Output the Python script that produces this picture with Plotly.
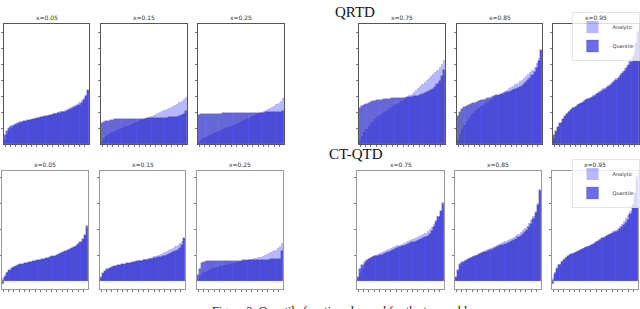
import plotly.graph_objects as go

W, H = 640, 309
N_QUANTILES = 40
quantile_index = list(range(N_QUANTILES))
panel_labels = ["x=0.05", "x=0.15", "x=0.25", "x=0.75", "x=0.85", "x=0.95"]
row_titles = ["QRTD", "CT-QTD"]
series_names = ["Analytic", "Quantile"]
caption = "Figure 3: Quantile functions learned for the toy problem."

# ---------------- QRTD (top row) ----------------
qrtd_analytic_005 = [4, 10, 14, 16, 18, 19, 20, 21, 22, 23, 23, 24, 25, 25, 26, 26, 27, 27, 28, 28,
                     29, 29, 30, 31, 31, 32, 33, 33, 34, 35, 36, 37, 38, 39, 40, 42, 44, 46, 49, 54]
qrtd_quantile_005 = [9, 13, 16, 18, 19, 20, 21, 22, 22, 23, 23, 24, 24, 25, 25, 26, 26, 27, 27, 28,
                     28, 29, 29, 30, 30, 31, 31, 32, 32, 33, 34, 35, 36, 37, 38, 39, 41, 44, 48, 54]
qrtd_analytic_015 = [3, 6, 8, 10, 11, 12, 13, 14, 15, 16, 17, 18, 18, 19, 20, 21, 22, 23, 24, 25,
                     26, 26, 27, 28, 29, 30, 31, 32, 33, 34, 35, 36, 37, 38, 39, 40, 42, 43, 45, 47]
qrtd_quantile_015 = [21, 22, 23, 23, 24, 24, 25, 25, 25, 25, 25, 25, 25, 25, 25, 25, 25, 25, 25, 25,
                     25, 26, 26, 26, 26, 26, 26, 26, 26, 26, 26, 27, 27, 27, 27, 27, 28, 29, 30, 33]
qrtd_analytic_025 = [2, 4, 6, 7, 8, 9, 10, 11, 12, 13, 14, 15, 16, 17, 17, 18, 19, 20, 21, 22,
                     23, 24, 25, 26, 27, 28, 29, 30, 31, 32, 33, 34, 35, 36, 37, 38, 40, 41, 43, 46]
qrtd_quantile_025 = [29, 30, 30, 30, 30, 30, 30, 30, 30, 30, 30, 31, 31, 31, 31, 31, 31, 31, 31, 31,
                     31, 31, 31, 31, 31, 31, 31, 31, 31, 31, 31, 32, 32, 32, 32, 32, 32, 32, 32, 33]
qrtd_analytic_075 = [3, 8, 12, 15, 18, 21, 23, 25, 27, 29, 30, 32, 33, 34, 36, 37, 39, 40, 41, 43,
                     44, 46, 47, 49, 50, 52, 54, 56, 58, 60, 62, 64, 66, 68, 70, 72, 74, 77, 80, 84]
qrtd_quantile_075 = [36, 38, 39, 40, 41, 42, 43, 43, 44, 44, 44, 45, 45, 45, 45, 46, 46, 46, 46, 46,
                     46, 46, 47, 47, 47, 48, 48, 48, 49, 50, 51, 52, 53, 54, 55, 57, 60, 63, 68, 74]
qrtd_analytic_085 = [4, 10, 15, 19, 23, 26, 29, 31, 33, 35, 36, 38, 39, 41, 42, 44, 45, 47, 48, 49,
                     50, 52, 53, 54, 56, 57, 58, 60, 61, 63, 64, 66, 68, 70, 72, 74, 77, 81, 86, 94]
qrtd_quantile_085 = [28, 32, 35, 37, 38, 39, 40, 41, 41, 42, 43, 44, 44, 45, 46, 46, 47, 48, 49, 49,
                     50, 50, 51, 52, 52, 53, 54, 55, 56, 57, 58, 60, 62, 64, 66, 69, 72, 76, 83, 94]
qrtd_analytic_095 = [6, 12, 17, 21, 25, 28, 31, 33, 35, 37, 38, 40, 41, 42, 44, 45, 46, 47, 49, 50,
                     51, 53, 54, 56, 57, 59, 60, 62, 64, 66, 68, 71, 73, 76, 79, 83, 87, 93, 102, 114]
qrtd_quantile_095 = [9, 13, 17, 21, 25, 28, 30, 32, 34, 36, 37, 39, 40, 41, 42, 44, 45, 46, 47, 48,
                     50, 51, 52, 54, 55, 57, 58, 60, 62, 64, 66, 69, 71, 73, 76, 79, 82, 88, 100, 112]

# ---------------- CT-QTD (bottom row) ----------------
ctqtd_analytic_005 = [3, 6, 9, 11, 13, 14, 15, 16, 17, 17, 18, 18, 19, 19, 20, 20, 21, 21, 22, 22,
                      23, 23, 24, 25, 25, 26, 27, 28, 29, 30, 31, 32, 33, 34, 35, 37, 39, 42, 46, 53]
ctqtd_quantile_005 = [-3, 4, 8, 11, 13, 14, 15, 16, 17, 17, 18, 18, 19, 19, 20, 20, 21, 21, 22, 22,
                      23, 23, 24, 25, 25, 26, 27, 28, 29, 30, 31, 32, 33, 34, 35, 37, 39, 42, 46, 55]
ctqtd_analytic_015 = [3, 7, 10, 12, 13, 14, 15, 15, 16, 16, 17, 17, 18, 18, 19, 19, 20, 20, 21, 21,
                      22, 22, 23, 23, 24, 25, 25, 26, 27, 28, 29, 30, 31, 32, 33, 35, 36, 38, 40, 43]
ctqtd_quantile_015 = [4, 8, 10, 12, 13, 14, 15, 15, 16, 16, 17, 17, 18, 18, 18, 19, 19, 20, 20, 20,
                      21, 21, 21, 22, 22, 23, 23, 24, 24, 25, 25, 26, 27, 28, 29, 30, 31, 33, 36, 43]
ctqtd_analytic_025 = [2, 5, 7, 9, 10, 11, 12, 13, 13, 14, 15, 15, 16, 16, 17, 17, 18, 18, 19, 19,
                      20, 20, 21, 21, 22, 22, 23, 23, 24, 24, 25, 26, 27, 28, 29, 30, 31, 33, 35, 38]
ctqtd_quantile_025 = [6, 12, 18, 19, 20, 20, 20, 20, 20, 20, 20, 20, 20, 20, 20, 20, 20, 20, 20, 20,
                      20, 21, 21, 21, 21, 21, 21, 21, 21, 21, 21, 21, 21, 21, 22, 22, 22, 22, 22, 30]
ctqtd_analytic_075 = [2, 8, 13, 17, 20, 22, 24, 25, 26, 27, 28, 29, 30, 31, 32, 33, 34, 35, 36, 36,
                      37, 38, 39, 40, 41, 42, 43, 44, 45, 46, 47, 48, 50, 52, 54, 57, 61, 65, 70, 76]
ctqtd_quantile_075 = [4, 12, 16, 19, 21, 22, 23, 24, 25, 25, 26, 26, 27, 28, 29, 30, 31, 32, 33, 34,
                      35, 35, 36, 37, 38, 39, 39, 40, 41, 42, 43, 44, 45, 47, 50, 54, 59, 64, 70, 78]
ctqtd_analytic_085 = [3, 10, 15, 18, 20, 22, 23, 24, 25, 26, 27, 28, 29, 30, 31, 32, 33, 34, 35, 36,
                      37, 38, 39, 40, 41, 42, 43, 44, 46, 47, 49, 51, 53, 55, 58, 61, 65, 70, 78, 90]
ctqtd_quantile_085 = [4, 11, 17, 19, 20, 21, 22, 23, 24, 25, 26, 27, 28, 29, 29, 30, 31, 32, 33, 34,
                      35, 36, 36, 37, 38, 39, 40, 41, 42, 44, 45, 47, 49, 51, 54, 57, 62, 68, 76, 91]
ctqtd_analytic_095 = [3, 9, 14, 17, 20, 22, 24, 25, 27, 28, 29, 30, 31, 32, 33, 34, 35, 36, 37, 38,
                      39, 40, 42, 43, 44, 46, 47, 48, 50, 51, 53, 55, 57, 60, 63, 66, 70, 77, 87, 100]
ctqtd_quantile_095 = [-3, 7, 12, 16, 19, 21, 23, 25, 26, 27, 28, 29, 30, 31, 32, 33, 34, 35, 36, 37,
                      39, 40, 41, 43, 44, 45, 46, 47, 48, 49, 50, 52, 54, 56, 58, 61, 67, 76, 88, 104]

rows = [
    dict(title=row_titles[0],
         analytic=[qrtd_analytic_005, qrtd_analytic_015, qrtd_analytic_025,
                   qrtd_analytic_075, qrtd_analytic_085, qrtd_analytic_095],
         quantile=[qrtd_quantile_005, qrtd_quantile_015, qrtd_quantile_025,
                   qrtd_quantile_075, qrtd_quantile_085, qrtd_quantile_095],
         xpx=[(4, 89), (101, 187), (198, 284), (359, 445), (457, 542), (553, 639)],
         ypx=(24, 144), yrange=[0, 120], ytick=16, frame="#555555", legend="legend",
         title_xy=(355, 12)),
    dict(title=row_titles[1],
         analytic=[ctqtd_analytic_005, ctqtd_analytic_015, ctqtd_analytic_025,
                   ctqtd_analytic_075, ctqtd_analytic_085, ctqtd_analytic_095],
         quantile=[ctqtd_quantile_005, ctqtd_quantile_015, ctqtd_quantile_025,
                   ctqtd_quantile_075, ctqtd_quantile_085, ctqtd_quantile_095],
         xpx=[(2, 88), (100, 185), (197, 283), (357, 444), (455, 541), (552, 638)],
         ypx=(171, 289), yrange=[-8, 110], ytick=26, frame="#999999", legend="legend2",
         title_xy=(356, 154)),
]

LIGHT = "rgba(0,0,255,0.28)"
DARK = "rgba(10,10,220,0.6)"
DARK_EDGE = "rgba(30,30,90,0.3)"

fig = go.Figure()
layout = dict(
    width=W, height=H, margin=dict(l=0, r=0, t=0, b=0),
    paper_bgcolor="white", plot_bgcolor="white",
    barmode="overlay", bargap=0,
    font=dict(family="DejaVu Sans", size=6, color="#333333"),
)
annotations = []
k = 0
xt = [i * 2.5 for i in range(16)]
for r, row in enumerate(rows):
    for j in range(6):
        k += 1
        xa = "x" if k == 1 else f"x{k}"
        ya = "y" if k == 1 else f"y{k}"
        x0, x1 = row["xpx"][j]
        t, b = row["ypx"]
        layout["xaxis" if k == 1 else f"xaxis{k}"] = dict(
            domain=[x0 / W, x1 / W], anchor=ya, range=[-0.5, N_QUANTILES - 0.5],
            showline=True, mirror=True, linecolor=row["frame"], linewidth=1,
            ticks="outside", ticklen=2, tickwidth=0.6, tickcolor="#777777",
            tickvals=xt, showticklabels=False, showgrid=False, zeroline=False,
            layer="below traces" if r == 0 else "above traces",
        )
        yt = [row["ytick"] * m for m in range(1, 8) if row["ytick"] * m < row["yrange"][1]]
        layout["yaxis" if k == 1 else f"yaxis{k}"] = dict(
            domain=[1 - b / H, 1 - t / H], anchor=xa, range=row["yrange"],
            showline=True, mirror=True, linecolor=row["frame"], linewidth=1,
            ticks="outside", ticklen=2, tickwidth=0.6, tickcolor="#777777",
            tickvals=yt, showticklabels=False, showgrid=False, zeroline=False,
            layer="below traces" if r == 0 else "above traces",
        )
        fig.add_trace(go.Bar(
            x=quantile_index, y=row["analytic"][j], xaxis=xa, yaxis=ya,
            name=series_names[0], legend=row["legend"], showlegend=(j == 5),
            marker=dict(color=LIGHT, line=dict(width=0)),
        ))
        fig.add_trace(go.Bar(
            x=quantile_index, y=row["quantile"][j], xaxis=xa, yaxis=ya,
            name=series_names[1], legend=row["legend"], showlegend=(j == 5),
            marker=dict(color=DARK, line=dict(width=0.5, color=DARK_EDGE)),
        ))
        annotations.append(dict(
            text=panel_labels[j], x=(x0 + x1) / 2 / W, y=1 - (t - 1) / H,
            xref="paper", yref="paper", xanchor="center", yanchor="bottom",
            showarrow=False, font=dict(size=6, color="#333333"),
        ))
    annotations.append(dict(
        text=row["title"], x=row["title_xy"][0] / W, y=1 - row["title_xy"][1] / H,
        xref="paper", yref="paper", xanchor="center", yanchor="middle", showarrow=False,
        font=dict(family="Liberation Serif", size=15, color="#111111"),
    ))

annotations.append(dict(
    text=caption, x=348 / W, y=1 - 302 / H, xref="paper", yref="paper",
    xanchor="center", yanchor="top", showarrow=False,
    font=dict(family="Liberation Serif", size=12, color="#111111"),
))

legend_style = dict(
    xanchor="right", yanchor="top", font=dict(size=5, color="#333333"),
    bgcolor="rgba(255,255,255,0.8)", bordercolor="#cccccc", borderwidth=0.5,
    itemwidth=30, tracegroupgap=0,
)
layout["legend"] = dict(x=1.0, y=1 - 12 / H, **legend_style)
layout["legend2"] = dict(x=1.0, y=1 - 159 / H, **legend_style)
layout["annotations"] = annotations
fig.update_layout(**layout)
fig.write_html("out.html", config={"displayModeBar": False},
               post_script="document.body.style.margin='0px';")
